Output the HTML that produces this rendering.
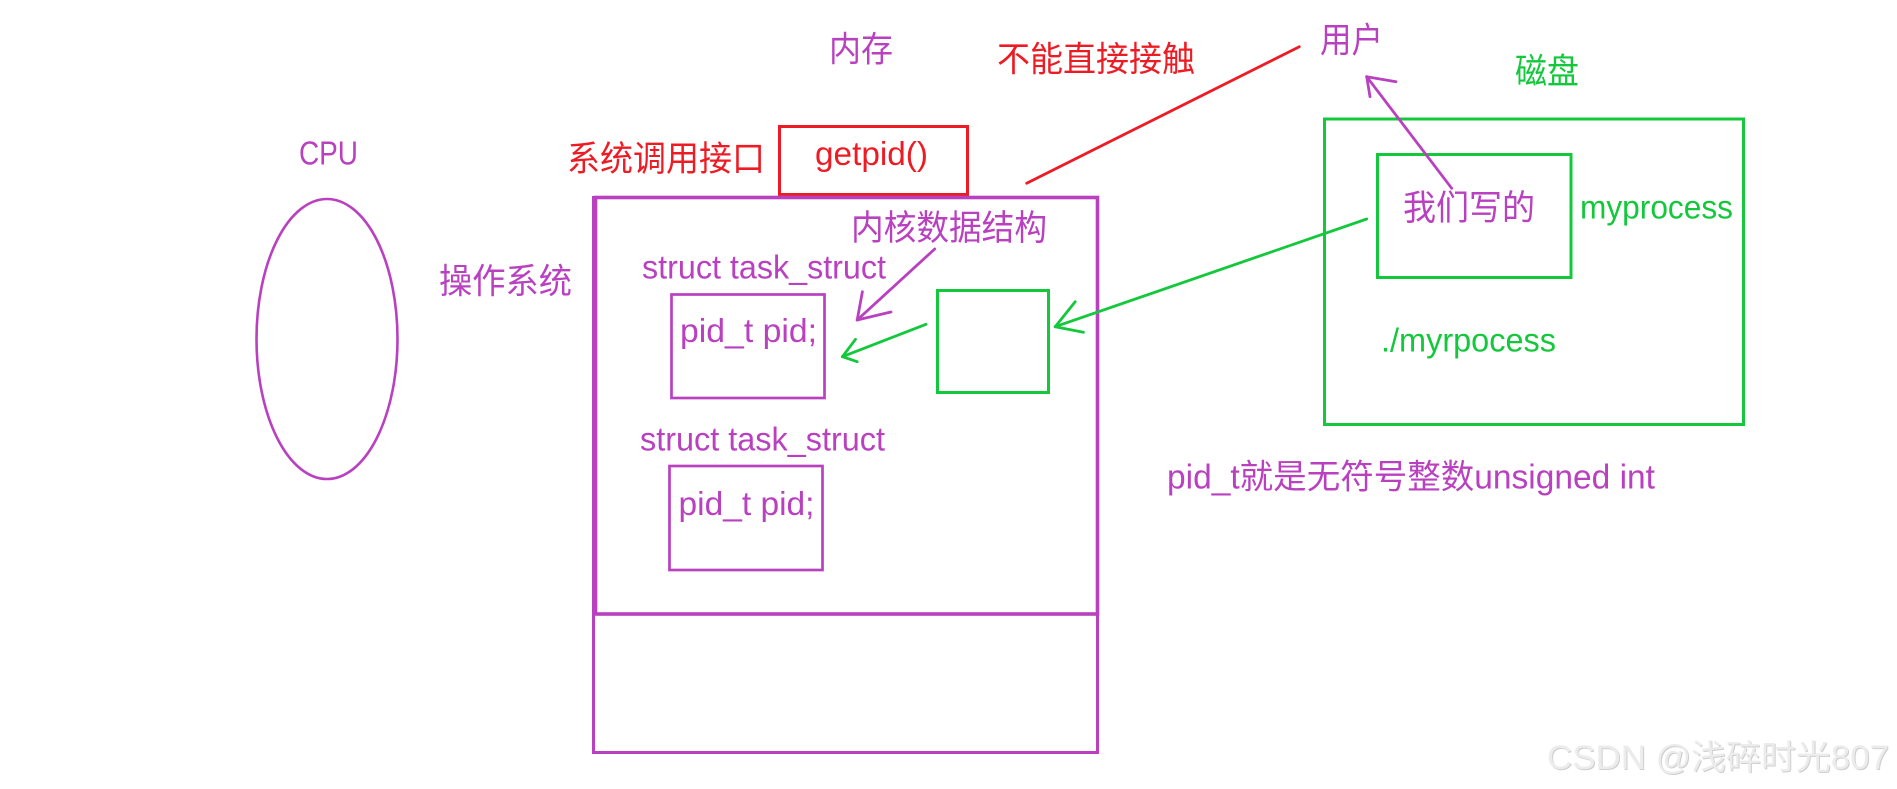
<!DOCTYPE html>
<html>
<head>
<meta charset="utf-8">
<style>
html,body{margin:0;padding:0;background:#fff;}
body{width:1897px;height:789px;overflow:hidden;}
svg{display:block;}
.lat{font-family:"Liberation Sans","Noto Sans CJK SC",sans-serif;}
.cjk{font-family:"Liberation Sans","Noto Sans CJK SC",sans-serif;}
</style>
</head>
<body>
<svg width="1897" height="789" viewBox="0 0 1897 789" xmlns="http://www.w3.org/2000/svg">
<rect x="0" y="0" width="1897" height="789" fill="#fff"/>

<!-- CPU -->
<text class="lat" x="299" y="164.5" font-size="33" fill="#B941C0" textLength="59" lengthAdjust="spacingAndGlyphs">CPU</text>
<ellipse cx="327" cy="339" rx="70.5" ry="140" fill="none" stroke="#B941C0" stroke-width="2.6"/>

<!-- 内存 -->
<text class="cjk" x="829" y="61.3" font-size="35" fill="#B941C0" textLength="64" lengthAdjust="spacingAndGlyphs">内存</text>

<!-- 不能直接接触 -->
<text class="cjk" x="997" y="71.3" font-size="35" fill="#ED1C24" textLength="198" lengthAdjust="spacingAndGlyphs">不能直接接触</text>
<line x1="1026.7" y1="183.3" x2="1299.3" y2="46.7" stroke="#ED1C24" stroke-width="2.8" stroke-linecap="round"/>

<!-- 用户 -->
<text class="cjk" x="1320" y="52.3" font-size="35" fill="#B941C0" textLength="63" lengthAdjust="spacingAndGlyphs">用户</text>

<!-- 磁盘 -->
<text class="cjk" x="1515" y="83.3" font-size="35" fill="#14C83C" textLength="64" lengthAdjust="spacingAndGlyphs">磁盘</text>

<!-- 系统调用接口 -->
<text class="cjk" x="567" y="170.8" font-size="35" fill="#ED1C24" textLength="198" lengthAdjust="spacingAndGlyphs">系统调用接口</text>

<!-- getpid box -->
<rect x="779.5" y="126.5" width="188" height="68" fill="none" stroke="#ED1C24" stroke-width="3"/>
<text class="lat" x="815" y="165" font-size="33" fill="#ED1C24" textLength="113" lengthAdjust="spacingAndGlyphs">getpid()</text>

<!-- 操作系统 -->
<text class="cjk" x="439" y="293.3" font-size="35" fill="#B941C0" textLength="133" lengthAdjust="spacingAndGlyphs">操作系统</text>

<!-- main OS boxes -->
<rect x="595.5" y="197.5" width="502" height="416.5" fill="none" stroke="#B941C0" stroke-width="3.6"/>
<rect x="593.5" y="197.5" width="504" height="555" fill="none" stroke="#B941C0" stroke-width="3"/>

<!-- 内核数据结构 -->
<text class="cjk" x="851" y="240" font-size="35" fill="#B941C0" textLength="196" lengthAdjust="spacingAndGlyphs">内核数据结构</text>

<!-- struct 1 -->
<text class="lat" x="642" y="278.5" font-size="33" fill="#B941C0" textLength="244" lengthAdjust="spacingAndGlyphs">struct task_struct</text>
<rect x="671.5" y="294.5" width="153" height="103.5" fill="none" stroke="#B941C0" stroke-width="2.7"/>
<text class="lat" x="680" y="342" font-size="33" fill="#B941C0" textLength="137" lengthAdjust="spacingAndGlyphs">pid_t pid;</text>

<!-- struct 2 -->
<text class="lat" x="640" y="450.5" font-size="33" fill="#B941C0" textLength="245" lengthAdjust="spacingAndGlyphs">struct task_struct</text>
<rect x="669.5" y="466" width="153" height="104" fill="none" stroke="#B941C0" stroke-width="2.7"/>
<text class="lat" x="678.5" y="515" font-size="33" fill="#B941C0" textLength="136" lengthAdjust="spacingAndGlyphs">pid_t pid;</text>

<!-- purple arrow from 内核数据结构 -->
<g stroke="#B941C0" stroke-width="2.8" stroke-linecap="round" fill="none">
<line x1="934.7" y1="249" x2="857.2" y2="320"/>
<line x1="857.2" y1="320" x2="862.4" y2="291.7"/>
<line x1="857.2" y1="320" x2="891" y2="312"/>
</g>

<!-- green small box -->
<rect x="937.5" y="290.5" width="111" height="102" fill="none" stroke="#14C83C" stroke-width="3"/>

<!-- green arrow to pid box -->
<g stroke="#14C83C" stroke-width="2.8" stroke-linecap="round" fill="none">
<line x1="926" y1="324.3" x2="842.4" y2="356.7"/>
<line x1="842.4" y1="356.7" x2="855.5" y2="339.3"/>
<line x1="842.4" y1="356.7" x2="857.2" y2="361.7"/>
</g>

<!-- green arrow from 我们写的 -->
<g stroke="#14C83C" stroke-width="2.8" stroke-linecap="round" fill="none">
<line x1="1366.7" y1="219" x2="1055.2" y2="326.7"/>
<line x1="1055.2" y1="326.7" x2="1075.2" y2="301.7"/>
<line x1="1055.2" y1="326.7" x2="1083.4" y2="332.3"/>
</g>

<!-- disk boxes -->
<rect x="1324.5" y="119" width="419" height="305.5" fill="none" stroke="#14C83C" stroke-width="3"/>
<rect x="1377.5" y="154.5" width="193.5" height="123" fill="none" stroke="#14C83C" stroke-width="3"/>

<text class="cjk" x="1403" y="220" font-size="35" fill="#B941C0" textLength="132" lengthAdjust="spacingAndGlyphs">我们写的</text>
<text class="lat" x="1580" y="218.3" font-size="33" fill="#14C83C" textLength="153" lengthAdjust="spacingAndGlyphs">myprocess</text>
<text class="lat" x="1381" y="351.7" font-size="33" fill="#14C83C" textLength="175" lengthAdjust="spacingAndGlyphs">./myrpocess</text>

<!-- purple arrow to 用户 -->
<g stroke="#B941C0" stroke-width="2.8" stroke-linecap="round" fill="none">
<line x1="1451.7" y1="188.3" x2="1366.7" y2="76.7"/>
<line x1="1366.7" y1="76.7" x2="1396" y2="81.7"/>
<line x1="1366.7" y1="76.7" x2="1370" y2="96.7"/>
</g>

<!-- pid_t note -->
<text class="cjk" x="1167" y="488.5" font-size="34" fill="#B941C0" textLength="488" lengthAdjust="spacingAndGlyphs">pid_t就是无符号整数unsigned int</text>

<!-- watermark -->
<text class="cjk" x="1548" y="770" font-size="34" fill="#cfcfcf" textLength="342" lengthAdjust="spacingAndGlyphs">CSDN @浅碎时光807</text>
<text class="cjk" x="1547" y="769" font-size="34" fill="#ececec" textLength="342" lengthAdjust="spacingAndGlyphs">CSDN @浅碎时光807</text>
</svg>
</body>
</html>
